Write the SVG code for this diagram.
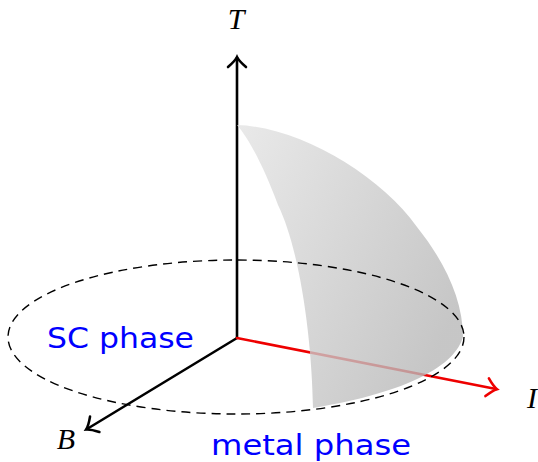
<svg xmlns="http://www.w3.org/2000/svg" width="538" height="462" viewBox="0 0 538 462">
<style>
.ax{fill:none;stroke-width:2.6;stroke-linecap:round}
.lbl{font-family:"Liberation Serif",serif;font-style:italic;font-size:30px;fill:#000}
.ph{font-family:"DejaVu Sans","Noto Sans",sans-serif;font-size:29px;fill:#0000ff}
</style>
<defs>
<linearGradient id="g" x1="0" y1="0" x2="1" y2="0.6">
<stop offset="0" stop-color="#e4e4e4"/>
<stop offset="1" stop-color="#b8b8b8"/>
</linearGradient>
<marker id="ak" markerUnits="userSpaceOnUse" markerWidth="24" markerHeight="24" viewBox="-12 -12 24 24" refX="0" refY="0" orient="auto" overflow="visible">
<path d="M -9 -9 Q -3 -2 1 0 Q -3 2 -9 9" fill="none" stroke="#000" stroke-width="2.6" stroke-linecap="round"/>
</marker>
<marker id="ar" markerUnits="userSpaceOnUse" markerWidth="24" markerHeight="24" viewBox="-12 -12 24 24" refX="0" refY="0" orient="auto" overflow="visible">
<path d="M -9 -9 Q -3 -2 1 0 Q -3 2 -9 9" fill="none" stroke="#ee0000" stroke-width="2.6" stroke-linecap="round"/>
</marker>
</defs>
<g id="connectors">
<line id="axis-T" class="ax" x1="237" y1="338" x2="237" y2="58" stroke="#000" marker-end="url(#ak)"/>
<line id="axis-B" class="ax" x1="237" y1="338" x2="87" y2="429" stroke="#000" marker-end="url(#ak)"/>
<line id="axis-I" class="ax" x1="237" y1="338" x2="496" y2="389" stroke="#ee0000" marker-end="url(#ar)"/>
</g>
<g id="surface">
<path d="M 237 125 C 300 127 380 175 417 227 C 445 262 463 300 463 337 C 455 365 410 392 313 408 C 312 340 300 250 278 205 C 265 170 250 140 237 125 Z" fill="url(#g)" opacity="0.8"/>
</g>
<g id="boundary">
<ellipse cx="236" cy="337" rx="228" ry="77" fill="none" stroke="#000" stroke-width="1.4" stroke-dasharray="9 6"/>
</g>
<g id="labels">
<text class="lbl" x="236" y="29" text-anchor="middle">T</text>
<text class="lbl" x="66" y="449" text-anchor="middle">B</text>
<text class="lbl" x="532" y="408" text-anchor="middle">I</text>
<text id="sc-phase" class="ph" x="47" y="348" textLength="147" lengthAdjust="spacingAndGlyphs">SC phase</text>
<text id="metal-phase" class="ph" x="211" y="455" textLength="200" lengthAdjust="spacingAndGlyphs">metal phase</text>
</g>
</svg>
